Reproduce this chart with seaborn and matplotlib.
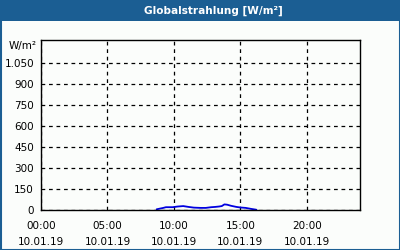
import matplotlib
matplotlib.use("Agg")
import matplotlib.pyplot as plt
import seaborn as sns
import pandas as pd
from matplotlib.patches import Rectangle
from matplotlib.ticker import FixedLocator, MultipleLocator

# data (hour of day, W/m²)
hours = [8.7, 9.2, 9.4, 9.6, 9.9, 10.3, 10.7, 11.1, 11.5, 12.0, 12.4, 12.8, 13.1, 13.4, 13.6, 13.8, 14.0, 14.3, 14.7, 15.0, 15.4, 15.8, 16.2]
values = [5, 15, 20, 20, 20, 25, 28, 22, 17, 15, 15, 20, 22, 25, 28, 40, 38, 30, 22, 18, 15, 8, 2]
ytick_vals = [0, 150, 300, 450, 600, 750, 900, 1050]
ytick_labels = ["0", "150", "300", "450", "600", "750", "900", "1.050"]
xtick_vals = [0, 5, 10, 15, 20]
xtick_labels = ["00:00\n10.01.19", "05:00\n10.01.19", "10:00\n10.01.19", "15:00\n10.01.19", "20:00\n10.01.19"]
title = "Globalstrahlung [W/m²]"
unit = "W/m²"

sns.set_style("white")
plt.rcParams['font.family'] = ['DejaVu Sans']

bg = "#fbfdfb"
blue = "#1b5e93"
fig = plt.figure(figsize=(4, 2.5), dpi=100, facecolor=bg)
ax = fig.add_axes([41/400, 1-210/250, 319/400, 170/250])
ax.set_facecolor(bg)

df = pd.DataFrame({"h": hours, "v": values})
sns.lineplot(data=df, x="h", y="v", ax=ax, color="#0000e0", linewidth=1.3)

ax.set_xlim(0, 24)
ax.set_ylim(0, 1214)
ax.xaxis.set_major_locator(FixedLocator(xtick_vals))
ax.set_xticklabels(xtick_labels, fontsize=7.5, linespacing=1.7, color="black")
ax.xaxis.set_minor_locator(MultipleLocator(1))
ax.yaxis.set_major_locator(FixedLocator(ytick_vals))
ax.set_yticklabels(ytick_labels, fontsize=7.5, color="black")
ax.tick_params(axis="x", which="both", direction="in", length=3, width=1, color="black", pad=8)
ax.tick_params(axis="y", which="both", length=0, pad=5)
ax.set_xlabel("")
ax.set_ylabel("")
ax.grid(True, which="major", color="black", linestyle=(0, (3, 3)), linewidth=0.9)
for s in ax.spines.values():
    s.set_color("black")
    s.set_linewidth(1)
    s.set_visible(True)

ax.text(-0.015, 1171, unit, transform=ax.get_yaxis_transform(), ha="right", va="center", fontsize=7.5, color="black")

# title bar and frame
fig.patches.append(Rectangle((0, 1-21/250), 1, 21/250, transform=fig.transFigure, facecolor=blue, edgecolor="none", zorder=0))
fig.patches.append(Rectangle((0.5/400, 0.5/250), 399/400, 249/250, transform=fig.transFigure, facecolor="none", edgecolor=blue, linewidth=1.5, zorder=5))
fig.text(213/400, 1-10.5/250, title, color="white", fontweight="bold", fontsize=7.6, ha="center", va="center")

fig.savefig("out.png", dpi=100, facecolor=bg)
